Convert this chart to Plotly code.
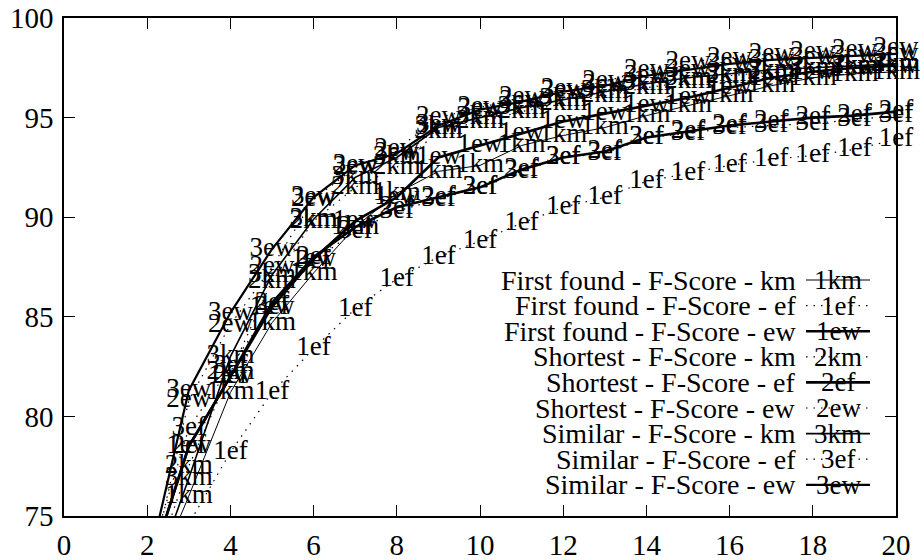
import plotly.graph_objects as go

x_vals = list(range(2, 21))

legend_names = [
    "First found - F-Score - km",
    "First found - F-Score - ef",
    "First found - F-Score - ew",
    "Shortest - F-Score - km",
    "Shortest - F-Score - ef",
    "Shortest - F-Score - ew",
    "Similar - F-Score - km",
    "Similar - F-Score - ef",
    "Similar - F-Score - ew",
]
point_labels = ["1km", "1ef", "1ew", "2km", "2ef", "2ew", "3km", "3ef", "3ew"]

first_km = [71.0, 76.0, 81.2, 84.7, 87.2, 89.5, 91.2, 92.3, 92.6, 93.6, 94.1, 94.5, 95.1, 95.6, 96.1, 96.6, 97.0, 97.2, 97.3]
first_ef = [70.0, 74.6, 78.2, 81.2, 83.4, 85.4, 86.9, 88.0, 88.8, 89.7, 90.5, 91.0, 91.8, 92.2, 92.6, 92.9, 93.1, 93.4, 93.9]
first_ew = [72.0, 78.5, 82.0, 85.5, 87.9, 89.8, 91.0, 93.0, 93.6, 94.2, 94.8, 95.2, 95.6, 96.0, 96.5, 97.0, 97.3, 97.5, 97.6]
short_km = [71.5, 77.5, 82.2, 86.8, 89.8, 91.5, 92.5, 94.3, 94.8, 95.3, 95.7, 96.1, 96.5, 96.8, 97.1, 97.3, 97.5, 97.6, 97.7]
short_ef = [72.0, 78.5, 82.0, 85.7, 88.0, 89.5, 90.5, 91.0, 91.5, 92.4, 93.0, 93.3, 94.0, 94.3, 94.6, 94.8, 95.0, 95.1, 95.3]
short_ew = [71.5, 80.8, 84.6, 87.5, 90.9, 92.5, 93.4, 95.0, 95.5, 96.0, 96.4, 96.8, 97.4, 97.8, 98.0, 98.2, 98.3, 98.4, 98.5]
sim_km = [71.0, 76.9, 83.0, 87.1, 89.9, 92.0, 93.0, 94.5, 95.0, 95.5, 95.9, 96.3, 96.7, 97.0, 97.2, 97.4, 97.5, 97.6, 97.7]
sim_ef = [72.5, 79.4, 82.5, 85.5, 87.8, 89.3, 90.3, 90.9, 91.5, 92.3, 93.0, 93.2, 94.0, 94.2, 94.5, 94.6, 94.7, 94.9, 95.1]
sim_ew = [72.3, 81.3, 85.2, 88.4, 91.0, 92.6, 93.2, 94.6, 95.4, 95.8, 96.3, 96.6, 97.1, 97.4, 97.7, 97.9, 98.0, 98.1, 98.2]

series_values = [first_km, first_ef, first_ew, short_km, short_ef, short_ew, sim_km, sim_ef, sim_ew]

DOT = "1.5px,6px"
styles = [
    dict(width=1.0, dash="solid"),
    dict(width=1.2, dash=DOT),
    dict(width=2.6, dash="solid"),
    dict(width=1.2, dash=DOT),
    dict(width=2.6, dash="solid"),
    dict(width=1.2, dash=DOT),
    dict(width=1.6, dash="solid"),
    dict(width=1.2, dash=DOT),
    dict(width=2.2, dash="solid"),
]

FONT = "Liberation Serif"
LABEL_SIZE = 27
X_MIN, X_MAX, Y_MIN, Y_MAX = 0, 20, 75, 100

fig = go.Figure()
for name, lab, ys, st in zip(legend_names, point_labels, series_values, styles):
    fig.add_trace(go.Scatter(
        x=x_vals, y=ys, mode="lines", name=name,
        line=dict(color="black", width=st["width"], dash=st["dash"]),
        showlegend=False, hoverinfo="skip",
    ))
    xs_in = [xv for xv, yv in zip(x_vals, ys) if Y_MIN <= yv <= Y_MAX and X_MIN <= xv <= X_MAX]
    ys_in = [yv for xv, yv in zip(x_vals, ys) if Y_MIN <= yv <= Y_MAX and X_MIN <= xv <= X_MAX]
    fig.add_trace(go.Scatter(
        x=xs_in, y=ys_in, mode="text", text=[lab] * len(xs_in),
        textposition="middle center", cliponaxis=False,
        textfont=dict(family=FONT, size=LABEL_SIZE, color="black"),
        showlegend=False, hoverinfo="skip",
    ))

# gnuplot-style key (bottom right inside plot)
PL, PR, PT, PB = 64, 896, 18, 516
def px_x(px):
    return (px - PL) / (PR - PL)
def px_y(py):
    return (PB - py) / (PB - PT)

row0, row_step = 280, 25.6
for i, (name, lab, st) in enumerate(zip(legend_names, point_labels, styles)):
    yp = px_y(row0 + i * row_step)
    fig.add_annotation(x=px_x(798), y=yp, xref="paper", yref="paper", text=name,
                       showarrow=False, xanchor="right", yanchor="middle",
                       font=dict(family=FONT, size=28, color="black"))
    fig.add_shape(type="line", xref="paper", yref="paper",
                  x0=px_x(806), x1=px_x(870), y0=yp, y1=yp,
                  line=dict(color="black", width=st["width"], dash=st["dash"]))
    fig.add_annotation(x=px_x(838), y=yp, xref="paper", yref="paper", text=lab,
                       showarrow=False, xanchor="center", yanchor="middle",
                       font=dict(family=FONT, size=LABEL_SIZE, color="black"))

axis_common = dict(
    showgrid=False, zeroline=False, showline=True, linecolor="black", linewidth=1.5,
    mirror="allticks", ticks="inside", ticklen=11, tickwidth=1.2, tickcolor="black",
    tickfont=dict(family=FONT, size=29, color="black"), automargin=False,
)
fig.update_xaxes(range=[X_MIN, X_MAX], tickmode="array", tickvals=list(range(0, 21, 2)),
                 ticklabelstandoff=2, **axis_common)
fig.update_yaxes(range=[Y_MIN, Y_MAX], tickmode="array", tickvals=[75, 80, 85, 90, 95, 100],
                 ticklabelstandoff=3, **axis_common)

fig.update_layout(
    width=924, height=560,
    margin=dict(l=PL, r=924 - PR, t=PT, b=560 - PB),
    paper_bgcolor="white", plot_bgcolor="white",
    showlegend=False,
)

fig.write_html("out.html")
